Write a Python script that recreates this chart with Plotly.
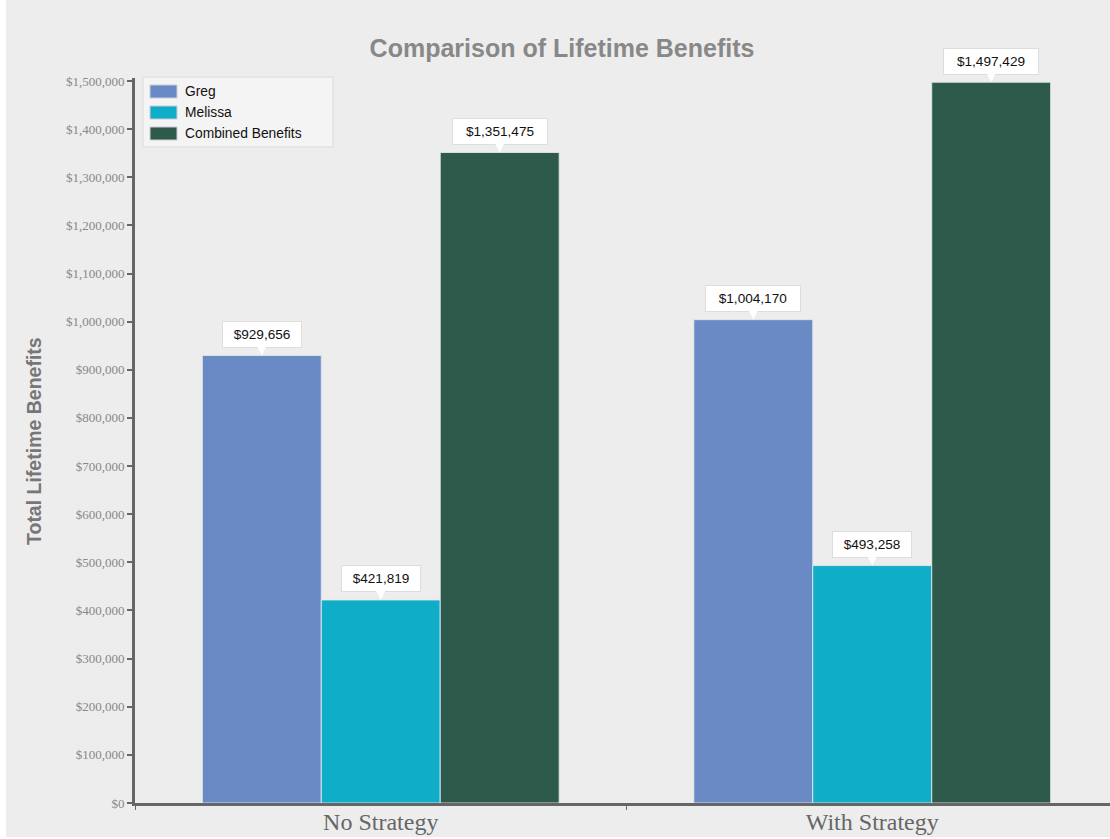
import plotly.graph_objects as go

categories = ["No Strategy", "With Strategy"]
series_names = ["Greg", "Melissa", "Combined Benefits"]
greg = [929656, 1004170]
melissa = [421819, 493258]
combined = [1351475, 1497429]
colors = ["#6a8ac6", "#10adc8", "#2e5a4b"]

series_values = [greg, melissa, combined]
bargap = 0.274
nser = len(series_values)
bar_w = (1 - bargap) / nser

fig = go.Figure()
for name, vals, col in zip(series_names, series_values, colors):
    fig.add_trace(go.Bar(
        x=categories, y=vals, name=name,
        marker=dict(color=col, line=dict(color="rgba(225,230,238,0.9)", width=1)),
        showlegend=False, hoverinfo="x+y+name",
    ))

annotations = []
for si, vals in enumerate(series_values):
    for ci, v in enumerate(vals):
        label = "${:,}".format(v)
        annotations.append(dict(
            x=ci + (si - (nser - 1) / 2) * bar_w, y=v, xref="x", yref="y",
            text=label, showarrow=True, ax=0, ay=-21,
            arrowcolor="white", arrowhead=2, arrowwidth=2, arrowsize=1.4,
            bgcolor="white", bordercolor="#dddddd", borderwidth=1, borderpad=5,
            width=8 * len(label) + 4,
            font=dict(family="Liberation Sans, Arial", size=13.6, color="#111111"),
        ))

# axis-title & custom legend
annotations.append(dict(
    x=(34 - 135) / 975, y=(803 - 441) / 725, xref="paper", yref="paper",
    xanchor="center", yanchor="middle",
    text="<b>Total Lifetime Benefits</b>", textangle=-90, showarrow=False,
    font=dict(family="Liberation Sans, Arial", size=19.5, color="#777777"),
))

shapes = [
    dict(type="rect", xref="paper", yref="paper", x0=-0.1323, x1=1.0, y0=-0.0469, y1=1.2,
         fillcolor="#ededed", line=dict(width=0), layer="below"),
    dict(type="rect", xref="paper", yref="paper", x0=0.0082, x1=0.2031, y0=0.9048, y1=1.0014,
         fillcolor="#f4f4f4", line=dict(color="#dcdcdc", width=1), layer="above"),
]
legend_rows_px = [91.5, 112.5, 133.5]
for name, col, py in zip(series_names, colors, legend_rows_px):
    yc = (803 - py) / 725
    shapes.append(dict(type="rect", xref="paper", yref="paper",
                       x0=15 / 975, x1=42 / 975, y0=yc - 6.5 / 725, y1=yc + 6.5 / 725,
                       fillcolor=col, line=dict(color="#c8cdd6", width=1), layer="above"))
    annotations.append(dict(x=48 / 975, y=yc, xref="paper", yref="paper", text=name,
                            showarrow=False, xanchor="left", yanchor="middle",
                            font=dict(family="Liberation Sans, Arial", size=13.8, color="#111111")))

fig.update_layout(
    width=1110, height=839,
    margin=dict(l=135, r=0, t=78, b=36),
    paper_bgcolor="white", plot_bgcolor="rgba(0,0,0,0)",
    barmode="group", bargap=bargap, bargroupgap=0,
    title=dict(text="<b>Comparison of Lifetime Benefits</b>", x=(562 - 135) / 975, xref="paper",
               xanchor="center", y=1 - 48 / 839, yanchor="middle",
               font=dict(family="Liberation Sans, Arial", size=25, color="#888888")),
    xaxis=dict(range=[-0.5, 1.5 - 8 / 491.5], showline=True, linecolor="#666666", linewidth=3,
               ticks="outside", tickson="boundaries", ticklen=4, tickcolor="#666666",
               tickwidth=1, showgrid=False, ticklabelstandoff=-5,
               tickfont=dict(family="Liberation Serif, Georgia, serif", size=24, color="#666666")),
    yaxis=dict(range=[0, 1506233], dtick=100000, tickprefix="$", tickformat=",d",
               showline=True, linecolor="#666666", linewidth=3, ticks="outside", ticklen=5,
               tickcolor="#666666", tickwidth=2, showgrid=False, zeroline=False,
               tickfont=dict(family="Liberation Serif, Georgia, serif", size=13, color="#888888")),
    annotations=annotations, shapes=shapes,
    showlegend=False,
)

fig.write_html("out.html")
